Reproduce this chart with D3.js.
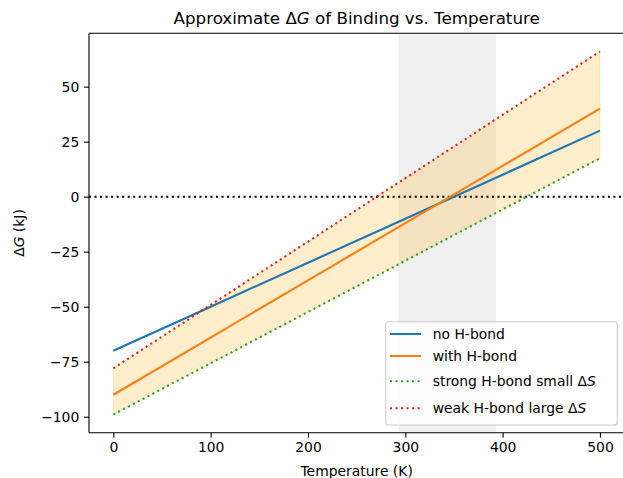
<!DOCTYPE html>
<html>
<head>
<meta charset="utf-8">
<script src="https://cdn.jsdelivr.net/npm/d3@7"></script>
<style>
  body { margin: 0; background: #fff; }
  text { font-family: "DejaVu Sans", sans-serif; }
</style>
</head>
<body>
<div id="chart"></div>
<script>
// data
var temps = [0, 100, 200, 300, 400, 500];
var noHbond = [-70, -50, -30, -10, 10, 30];
var withHbond = [-90, -64, -38, -12, 14, 40];
var strongSmallS = [-99, -75.7, -52.4, -29.1, -5.8, 17.5];
var weakLargeS = [-78, -49.2, -20.4, 8.4, 37.2, 66];
var spanLow = 293.15, spanHigh = 393.15;
var xTicks = [0, 100, 200, 300, 400, 500];
var yTicks = [-100, -75, -50, -25, 0, 25, 50];

var W = 623, H = 478;
var margin = {top: 33.3, left: 89, right: 0, bottom: 45.3};
var width = 535.3, height = H - margin.top - margin.bottom;

var svg = d3.select("#chart").append("svg")
    .attr("width", W).attr("height", H);

var g = svg.append("g")
    .attr("transform", "translate(" + margin.left + "," + margin.top + ")");

var x = d3.scaleLinear().domain([-25, 525]).range([0, width]);
var y = d3.scaleLinear().domain([-107.25, 74.25]).range([height, 0]);

var series = [
  {name: "no H-bond", vals: noHbond, color: "#1f77b4", dotted: false},
  {name: "with H-bond", vals: withHbond, color: "#ff7f0e", dotted: false},
  {name: "strong H-bond small ", vals: strongSmallS, color: "#2ca02c", dotted: true},
  {name: "weak H-bond large ", vals: weakLargeS, color: "#d62728", dotted: true}
];

// grey temperature band
g.append("rect")
  .attr("x", x(spanLow)).attr("y", 0)
  .attr("width", x(spanHigh) - x(spanLow)).attr("height", height)
  .attr("fill", "#808080").attr("fill-opacity", 0.12);

// band between the two extreme cases
var area = d3.area()
  .x(function(d, i) { return x(temps[i]); })
  .y0(function(d, i) { return y(strongSmallS[i]); })
  .y1(function(d, i) { return y(weakLargeS[i]); });
g.append("path")
  .datum(temps)
  .attr("d", area)
  .attr("fill", "orange").attr("fill-opacity", 0.2)
  .attr("stroke", "orange").attr("stroke-opacity", 0.2).attr("stroke-width", 1);

// zero line
g.append("line")
  .attr("x1", 0).attr("x2", width)
  .attr("y1", y(0)).attr("y2", y(0))
  .attr("stroke", "black").attr("stroke-width", 2.08)
  .attr("stroke-dasharray", "2.08,3.44");

var line = d3.line()
  .x(function(d, i) { return x(temps[i]); })
  .y(function(d) { return y(d); });

series.forEach(function(s) {
  g.append("path")
    .datum(s.vals)
    .attr("d", line)
    .attr("fill", "none")
    .attr("stroke", s.color)
    .attr("stroke-width", 2.08)
    .attr("stroke-dasharray", s.dotted ? "2.08,3.44" : null);
});

// axes
var xAxis = g.append("g")
  .attr("transform", "translate(0," + height + ")")
  .call(d3.axisBottom(x).tickValues(xTicks).tickSize(4.86).tickPadding(4.86).tickFormat(d3.format("d")));
var yAxis = g.append("g")
  .call(d3.axisLeft(y).tickValues(yTicks).tickSize(4.86).tickPadding(4.86)
    .tickFormat(function(d) { return d < 0 ? "\u2212" + Math.abs(d) : d; }));

[xAxis, yAxis].forEach(function(a) {
  a.select(".domain").remove();
  a.selectAll(".tick line").attr("stroke", "black").attr("stroke-width", 1.11);
  a.selectAll(".tick text").attr("fill", "black").style("font-size", "13.9px");
});

// spines
g.append("line").attr("x1", 0).attr("x2", 0).attr("y1", 0).attr("y2", height)
  .attr("stroke", "black").attr("stroke-width", 1.11);
g.append("line").attr("x1", 0).attr("x2", width).attr("y1", height).attr("y2", height)
  .attr("stroke", "black").attr("stroke-width", 1.11);
g.append("line").attr("x1", 0).attr("x2", width).attr("y1", 0).attr("y2", 0)
  .attr("stroke", "black").attr("stroke-width", 1.11);
g.append("line").attr("x1", width).attr("x2", width).attr("y1", 0).attr("y2", height)
  .attr("stroke", "black").attr("stroke-width", 1.11);

// title
var title = svg.append("text")
  .attr("x", margin.left + width / 2).attr("y", 24)
  .attr("text-anchor", "middle")
  .style("font-size", "16.7px");
title.append("tspan").text("Approximate \u0394");
title.append("tspan").style("font-style", "italic").text("G");
title.append("tspan").text(" of Binding vs. Temperature");

// x label
svg.append("text")
  .attr("x", margin.left + width / 2).attr("y", 476)
  .attr("text-anchor", "middle")
  .style("font-size", "13.9px")
  .text("Temperature (K)");

// y label
var ylab = svg.append("text")
  .attr("transform", "translate(24," + (margin.top + height / 2) + ") rotate(-90)")
  .attr("text-anchor", "middle")
  .style("font-size", "13.9px");
ylab.append("tspan").text("\u0394");
ylab.append("tspan").style("font-style", "italic").text("G");
ylab.append("tspan").text(" (kJ)");

// legend
var leg = svg.append("g").attr("transform", "translate(385.7,321.7)");
leg.append("rect")
  .attr("width", 231.6).attr("height", 103.3)
  .attr("rx", 3).attr("ry", 3)
  .attr("fill", "white").attr("fill-opacity", 0.8)
  .attr("stroke", "#cccccc").attr("stroke-width", 1.11);

var legY = [12.3, 34.3, 59.6, 86.6];
series.forEach(function(s, i) {
  leg.append("line")
    .attr("x1", 4.3).attr("x2", 35.3)
    .attr("y1", legY[i]).attr("y2", legY[i])
    .attr("stroke", s.color).attr("stroke-width", 2.08)
    .attr("stroke-dasharray", s.dotted ? "2.08,3.44" : null);
  var t = leg.append("text")
    .attr("x", 47).attr("y", legY[i] + 5)
    .style("font-size", "13.9px");
  t.append("tspan").text(s.name);
  if (s.dotted) {
    t.append("tspan").text("\u0394");
    t.append("tspan").style("font-style", "italic").text("S");
  }
});
</script>
</body>
</html>
